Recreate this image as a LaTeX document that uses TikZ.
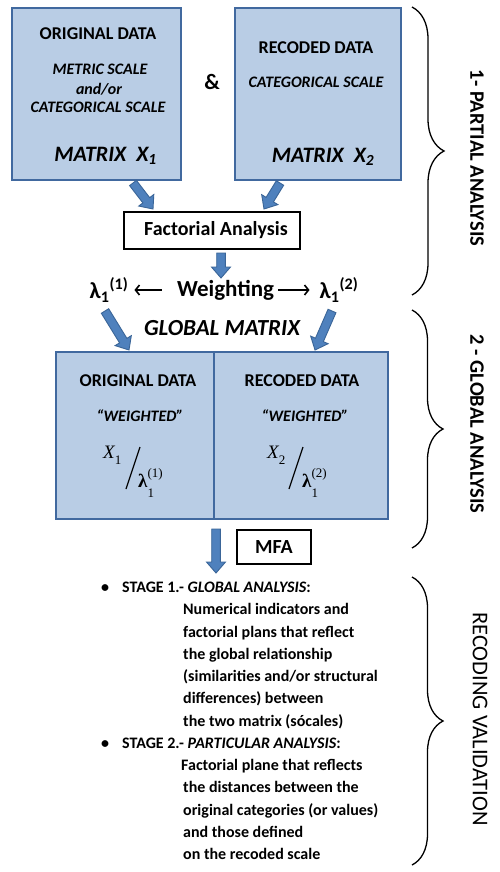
\documentclass[tikz,border=0pt]{standalone}
\usepackage{graphicx}
\usepackage[no-math]{fontspec}
\setmainfont{Carlito}
\newfontfamily\cmb{Liberation Serif}
\usetikzlibrary{calc,decorations.pathreplacing,arrows.meta}
\definecolor{boxfill}{HTML}{B9CDE5}
\definecolor{boxline}{HTML}{41699F}
\definecolor{arrfill}{HTML}{4F81BD}
\definecolor{arrline}{HTML}{3A6598}
\newcommand\smallfx{\mdseries\upshape\fontsize{13}{13}\selectfont}
\newcommand\blkarrow[2]{%
  \path let \p1=(#1), \p2=(#2), \n1={atan2(\y2-\y1,\x2-\x1)}, \n2={veclen(\x2-\x1,\y2-\y1)} in
    \pgfextra{\xdef\baang{\n1}\xdef\balen{\n2}};
  \pgfmathsetmacro\baneck{\balen-11}%
  \pgfmathsetmacro\batip{\balen}%
  \begin{scope}[shift={(#1)}, rotate=\baang]
    \draw[blkarr] (0pt,-4.3pt) -- (\baneck pt,-4.3pt) -- (\baneck pt,-9.5pt) -- (\batip pt,0pt)
      -- (\baneck pt,9.5pt) -- (\baneck pt,4.3pt) -- (0pt,4.3pt) -- cycle;
  \end{scope}}
\begin{document}
\begin{tikzpicture}[x=1pt,y=-1pt,
  bluebox/.style={draw=boxline, fill=boxfill, line width=1.2pt, inner sep=0pt},
  plainbox/.style={draw=black, fill=white, line width=1.2pt, inner sep=0pt},
  hd/.style={font=\fontsize{18}{20}\selectfont\bfseries, inner sep=0pt},
  sc/.style={font=\fontsize{16}{18}\selectfont\bfseries\itshape, inner sep=0pt},
  mx/.style={font=\fontsize{22}{24}\selectfont\bfseries\itshape, inner sep=0pt},
  lam/.style={font=\fontsize{23}{26}\selectfont\bfseries, inner sep=0pt},
  fx/.style={font=\fontsize{19}{21}\selectfont\cmb, inner sep=0pt, anchor=base west},
  ln/.style={font=\fontsize{16}{19}\selectfont\bfseries, inner sep=0pt, anchor=base west},
  blab/.style={font=\fontsize{20.5}{24}\selectfont\bfseries, inner sep=0pt, rotate=-90},
  brc/.style={decorate, line width=1.3pt},
  slash/.style={line width=1.2pt},
  blkarr/.style={draw=arrline, fill=arrfill, line width=0.9pt, line join=miter},
  thinarr/.style={line width=1.6pt, -{Straight Barb[length=4pt,width=10pt,line width=1.6pt]}}]
\useasboundingbox (0,0) rectangle (500,872);
\fill[white] (0,0) rectangle (500,872);

% top boxes
\node[bluebox, minimum width=169pt, minimum height=172pt] (orig) at (96.5,94) {};
\node[bluebox, minimum width=166pt, minimum height=172pt] (reco) at (318,94) {};
\node[hd] (t1) at (98,34) {ORIGINAL DATA};
\node[sc] (t2) at (100,69) {METRIC SCALE};
\node[sc] (t3) at (99,89) {and/or};
\node[sc] (t4) at (98,107) {CATEGORICAL SCALE};
\node[mx] (t5) at (105.5,156) {MATRIX\ \ X\textsubscript{1}};
\node[hd] (t6) at (316,48) {RECODED DATA};
\node[sc] (t7) at (316,82) {CATEGORICAL SCALE};
\node[mx] (t8) at (323,157) {MATRIX\ \ X\textsubscript{2}};
\node[font=\fontsize{22}{24}\selectfont\bfseries, inner sep=0pt] (amp) at (212,82) {\&};

% factorial analysis
\node[plainbox, minimum width=176pt, minimum height=37pt, font=\fontsize{20}{24}\selectfont\bfseries] (fa) at (212,230.5) {\hspace*{8pt}Factorial Analysis};

\coordinate (a1s) at (133,183); \coordinate (a1e) at (153,209);
\coordinate (a2s) at (280,183); \coordinate (a2e) at (264,209);
\coordinate (a3s) at (221,253); \coordinate (a3e) at (221,278);
\blkarrow{a1s}{a1e}
\blkarrow{a2s}{a2e}
\blkarrow{a3s}{a3e}

% weighting row
\node[lam] (l1) at (109,290) {λ\textsubscript{1}\textsuperscript{(1)}};
\node[lam] (w) at (225.5,290) {Weighting};
\node[lam] (l2) at (339,290) {λ\textsubscript{1}\textsuperscript{(2)}};
\draw[thinarr, shorten <=15pt, shorten >=6pt] (w.west) -- (l1.east);
\draw[thinarr, shorten <=4pt, shorten >=10pt] (w.east) -- (l2.west);

\node[font=\fontsize{23}{26}\selectfont\bfseries\itshape, inner sep=0pt] (gm) at (222,328) {GLOBAL MATRIX};

% global matrix
\node[bluebox, minimum width=158pt, minimum height=167pt] (gl) at (135,435.5) {};
\node[bluebox, minimum width=174pt, minimum height=167pt] (gr) at (301,435.5) {};
\coordinate (a4s) at (105,311); \coordinate (a4e) at (129,350);
\coordinate (a5s) at (332,311); \coordinate (a5e) at (315,350);
\blkarrow{a4s}{a4e}
\blkarrow{a5s}{a5e}
\node[hd] (g1) at (138,381) {ORIGINAL DATA};
\node[sc] (g2) at (140,416) {“WEIGHTED”};
\node[fx] (x1) at (103,458) {\itshape X\raisebox{-6pt}{\smallfx 1}};
\node[fx] (lb1) at (138,487) {\bfseries λ\rlap{\raisebox{-10pt}{\smallfx 1}}\raisebox{10pt}{\smallfx (1)}};
\coordinate (sl1a) at (126,489); \coordinate (sl1b) at (140,447);
\draw[slash] (sl1a) -- (sl1b);
\node[hd] (g4) at (302,381) {RECODED DATA};
\node[sc] (g5) at (305,416) {“WEIGHTED”};
\node[fx] (x2) at (267,458) {\itshape X\raisebox{-6pt}{\smallfx 2}};
\node[fx] (lb2) at (302,487) {\bfseries λ\rlap{\raisebox{-10pt}{\smallfx 1}}\raisebox{10pt}{\smallfx (2)}};
\coordinate (sl2a) at (289,489); \coordinate (sl2b) at (303,447);
\draw[slash] (sl2a) -- (sl2b);

% MFA
\node[plainbox, minimum width=74pt, minimum height=34pt, font=\fontsize{20}{24}\selectfont\bfseries] (mfa) at (274,547) {MFA};
\coordinate (a6s) at (216,529); \coordinate (a6e) at (216,573);
\blkarrow{a6s}{a6e}

% stages
\node[ln] (s1) at (101,592.5) {\makebox[21pt][l]{•}STAGE 1.- \textit{GLOBAL ANALYSIS}:};
\node[ln] (s1a) at (183,614.75) {Numerical indicators and};
\node[ln] (s1b) at (183,637) {factorial plans that reflect};
\node[ln] (s1c) at (183,659.25) {the global relationship};
\node[ln] (s1d) at (183,681.5) {(similarities and/or structural};
\node[ln] (s1e) at (183,703.75) {differences) between};
\node[ln] (s1f) at (183,726) {the two matrix (sócales)};
\node[ln] (s2) at (101,748.25) {\makebox[21pt][l]{•}STAGE 2.- \textit{PARTICULAR ANALYSIS}:};
\node[ln] (s2a) at (181,770.5) {Factorial plane that reflects};
\node[ln] (s2b) at (183,792.75) {the distances between the};
\node[ln] (s2c) at (183,815) {original categories (or values)};
\node[ln] (s2d) at (183,837.25) {and those defined};
\node[ln] (s2e) at (183,859.5) {on the recoded scale};

% braces
\coordinate (b1t) at (412,7); \coordinate (b1b) at (412,295);
\coordinate (b2t) at (412,310); \coordinate (b2b) at (412,548);
\coordinate (b3t) at (412,577); \coordinate (b3b) at (412,865);
\draw[brc, decoration={brace, amplitude=32pt}] (b1t) -- (b1b);
\draw[brc, decoration={brace, amplitude=31pt}] (b2t) -- (b2b);
\draw[brc, decoration={brace, amplitude=31pt}] (b3t) -- (b3b);
\node[blab] (bl1) at (477,158) {1- PARTIAL ANALYSIS};
\node[blab] (bl2) at (477,424) {2 - GLOBAL ANALYSIS};
\node[blab, font=\fontsize{22.5}{26}\selectfont] (bl3) at (480,719) {RECODING VALIDATION};
\end{tikzpicture}
\end{document}
